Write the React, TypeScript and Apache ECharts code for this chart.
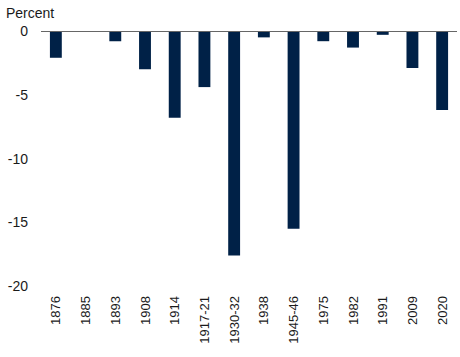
import React, { useEffect, useRef } from "react";
import * as echarts from "echarts";

const categories = ["1876", "1885", "1893", "1908", "1914", "1917-21", "1930-32", "1938", "1945-46", "1975", "1982", "1991", "2009", "2020"];
const values = [-2.1, 0, -0.8, -3.0, -6.8, -4.4, -17.6, -0.5, -15.5, -0.8, -1.3, -0.3, -2.9, -6.2];
const yTicks = [0, -5, -10, -15, -20];

export default function App() {
  const ref = useRef<HTMLDivElement>(null);
  useEffect(() => {
    const chart = echarts.init(ref.current!, null, { renderer: "svg" });
    chart.setOption({
      animation: false,
      textStyle: { fontFamily: "Liberation Sans, Arial, sans-serif" },
      graphic: [
        {
          type: "text",
          left: 6,
          top: 6,
          style: { text: "Percent", font: "14px Liberation Sans, Arial, sans-serif", fill: "#1a1a1a" },
        },
      ],
      grid: { left: 41, right: 3, top: 31, bottom: 71 },
      xAxis: {
        type: "category",
        data: categories,
        position: "bottom",
        axisLine: { show: false, onZero: false },
        axisTick: { show: false },
        axisLabel: { rotate: 90, fontSize: 13, color: "#1a1a1a", margin: 10, interval: 0 },
      },
      yAxis: {
        type: "value",
        min: -20,
        max: 0,
        interval: 5,
        splitLine: { show: false },
        axisLine: { show: false },
        axisTick: { show: false },
        axisLabel: {
          fontSize: 14,
          color: "#1a1a1a",
          margin: 13,
          formatter: (v: number) => (yTicks.includes(v) ? String(v) : ""),
        },
      },
      series: [
        {
          type: "bar",
          data: values,
          barWidth: "40%",
          itemStyle: { color: "#002147" },
          markLine: {
            silent: true,
            symbol: "none",
            label: { show: false },
            lineStyle: { color: "#666666", width: 1, type: "solid" },
            data: [{ yAxis: 0 }],
          },
        },
      ],
    });
    return () => chart.dispose();
  }, []);
  return <div ref={ref} style={{ position: "absolute", left: 0, top: 0, width: 460, height: 357 }} />;
}
